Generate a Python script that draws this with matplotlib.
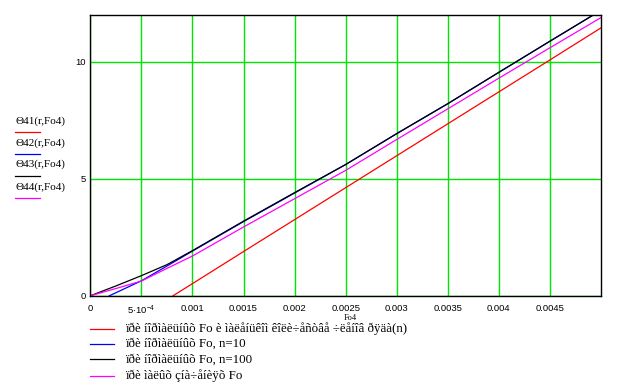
import matplotlib
matplotlib.use("Agg")
import matplotlib.pyplot as plt

# data
fo_red = [0.00081, 0.0015, 0.0025, 0.0035, 0.0045, 0.005]
th_red = [0.0, 1.89, 4.62, 7.35, 10.08, 11.45]

fo_blue = [0.000186, 0.0005, 0.00075, 0.001, 0.0015, 0.002, 0.0025, 0.003, 0.0035, 0.004, 0.0045, 0.005]
th_blue = [0.0, 0.64, 1.27, 1.91, 3.17, 4.39, 5.61, 6.93, 8.21, 9.55, 10.88, 12.2]

fo_black = [0.0, 0.00025, 0.0005, 0.00075, 0.001, 0.0015, 0.002, 0.0025, 0.003, 0.0035, 0.004, 0.0045, 0.005]
th_black = [0.0, 0.42, 0.86, 1.33, 1.93, 3.19, 4.41, 5.61, 6.93, 8.21, 9.55, 10.88, 12.2]

fo_mag = [0.0, 0.00025, 0.0005, 0.00075, 0.001, 0.0015, 0.002, 0.0025, 0.003, 0.0035, 0.004, 0.0045, 0.005]
th_mag = [0.0, 0.31, 0.63, 1.17, 1.70, 2.94, 4.15, 5.36, 6.68, 7.99, 9.30, 10.60, 11.89]

x_ticks = [0, 0.0005, 0.001, 0.0015, 0.002, 0.0025, 0.003, 0.0035, 0.004, 0.0045]
x_labels = ["0", "5·10$^{-4}$", "0.001", "0.0015", "0.002", "0.0025", "0.003", "0.0035", "0.004", "0.0045"]
y_ticks = [0, 5, 10]

left_names = ["Θ41(r,Fo4)", "Θ42(r,Fo4)", "Θ43(r,Fo4)", "Θ44(r,Fo4)"]
bottom_names = [
    "ïðè íîðìàëüíûõ Fo è ìàëåíüêîì êîëè÷åñòâå ÷ëåíîâ ðÿäà(n)",
    "ïðè íîðìàëüíûõ Fo, n=10",
    "ïðè íîðìàëüíûõ Fo, n=100",
    "ïðè ìàëûõ çíà÷åíèÿõ Fo",
]
colors = ["#ff0000", "#0000ff", "#000000", "#ff00ff"]

plt.rcParams["mathtext.default"] = "regular"
W, H = 632, 390
fig = plt.figure(figsize=(W / 100, H / 100), dpi=100)
ax = fig.add_axes([90.3 / W, 1 - 295.8 / H, (601 - 90.3) / W, (295.8 - 15) / H])

lw = 0.9
ax.plot(fo_red, th_red, color=colors[0], lw=lw)
ax.plot(fo_blue, th_blue, color=colors[1], lw=lw)
ax.plot(fo_black, th_black, color=colors[2], lw=lw)
ax.plot(fo_mag, th_mag, color=colors[3], lw=lw)

ax.set_xlim(0, 0.005)
ax.set_ylim(0, 12)
ax.set_xticks(x_ticks)
ax.set_xticklabels(x_labels, family="Liberation Sans", fontsize=6.8)
ax.set_yticks(y_ticks)
ax.set_yticklabels([str(v) for v in y_ticks], family="Liberation Sans", fontsize=6.8)
ax.tick_params(length=0, pad=6, axis="x")
ax.tick_params(length=0, pad=3, axis="y")
ax.grid(True, color="#00e600", lw=1.0)
ax.set_axisbelow(True)
for s in ax.spines.values():
    s.set_linewidth(1.0)
    s.set_color("black")

fig.text(350 / W, 1 - 318.5 / H, "Fo4", family="Liberation Serif", fontsize=6,
         ha="center", va="center")

# left legend (names with line samples)
text_y = [121, 142.7, 164.3, 187.3]
line_y = [132.3, 154, 176.3, 198.3]
for name, c, ty, ly in zip(left_names, colors, text_y, line_y):
    fig.text(16 / W, 1 - ty / H, name, family="Liberation Serif", fontsize=8,
             ha="left", va="center")
    fig.add_artist(plt.Line2D([15 / W, 40 / W], [1 - ly / H, 1 - ly / H], color=c, lw=lw))

# bottom legend
row_y = [328.8, 344, 359.3, 376]
for name, c, ry in zip(bottom_names, colors, row_y):
    fig.add_artist(plt.Line2D([90 / W, 114 / W], [1 - ry / H, 1 - ry / H], color=c, lw=lw))
    fig.text(125 / W, 1 - ry / H, name, family="Liberation Serif", fontsize=9.3,
             ha="left", va="center")

fig.savefig("out.png", dpi=100, facecolor="white")
